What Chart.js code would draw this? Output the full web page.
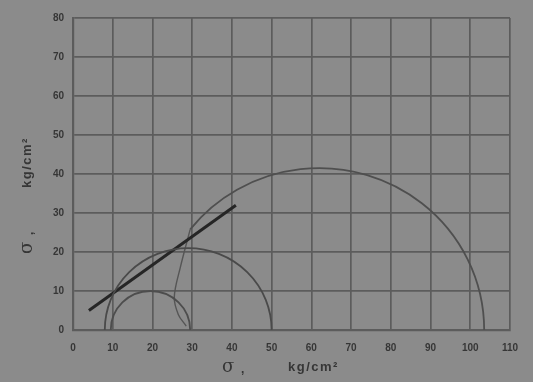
<!DOCTYPE html>
<html>
<head>
<meta charset="utf-8">
<script src="https://cdn.jsdelivr.net/npm/chart.js@4"></script>
<style>
  html, body { margin: 0; padding: 0; background: #8b8b8b; }
  #wrap { width: 533px; height: 382px; position: relative; }
</style>
</head>
<body>
<div id="wrap"><canvas id="mohr"></canvas></div>
<script>
// Mohr circles (kg/cm2)
const circleCenters = [19.5, 29, 62];
const circleRadii = [10, 21, 41.5];
// sigma where each drawn arc starts on its left (the big one is hand-drawn lower down)
const arcFrom = [9.5, 8, 29.5];
const circleColors = ['#4d4d4d', '#4a4a4a', '#4f4f4f'];

// strength envelope (thick dark stroke)
const envelopeSigma = [4, 41];
const envelopeTau = [5, 32];

// hand-drawn lower left part of the big circle
const strokeSigma = [29.5, 27, 25.5, 26.5, 28.5];
const strokeTau = [25.8, 16, 8.5, 4, 1];

const xTicks = [0, 10, 20, 30, 40, 50, 60, 70, 80, 90, 100, 110];
const yTicks = [0, 10, 20, 30, 40, 50, 60, 70, 80];

const ink = '#363636';
const gridInk = '#5c5c5c';

const toPoints = (xs, ys) => xs.map((x, i) => ({ x: x, y: ys[i] }));

// draws the semicircles through the chart scales
const circlesPlugin = {
    id: 'circles',
    afterDatasetsDraw(chart) {
        const { ctx, scales: { x, y } } = chart;
        ctx.save();
        circleCenters.forEach((c, i) => {
            const r = circleRadii[i];
            const cx = x.getPixelForValue(c);
            const cy = y.getPixelForValue(0);
            const rx = x.getPixelForValue(c + r) - cx;
            const ry = cy - y.getPixelForValue(r);
            const a = Math.acos(Math.max(-1, Math.min(1, (c - arcFrom[i]) / r)));
            ctx.beginPath();
            ctx.ellipse(cx, cy, rx, ry, 0, Math.PI + a, 2 * Math.PI);
            ctx.strokeStyle = circleColors[i];
            ctx.lineWidth = 1.8;
            ctx.stroke();
        });
        ctx.restore();
    }
};

// axis titles: big sigma, a dot, then the unit
const titlesPlugin = {
    id: 'titles',
    afterDraw(chart) {
        const { ctx } = chart;
        const drawTitle = () => {
            ctx.font = '18px "DejaVu Serif", serif';
            ctx.fillText('σ', 0, 0);
            ctx.font = 'bold 12px "Liberation Sans", sans-serif';
            ctx.fillText(',', 19, 3);
            ctx.letterSpacing = '1.5px';
            ctx.font = 'bold 13px "Liberation Sans", sans-serif';
            ctx.fillText('kg/cm²', 66, 0);
            ctx.letterSpacing = '0px';
        };
        ctx.save();
        ctx.fillStyle = ink;
        ctx.textBaseline = 'middle';
        ctx.textAlign = 'left';
        ctx.translate(222, 367);
        drawTitle();
        ctx.restore();

        ctx.save();
        ctx.fillStyle = ink;
        ctx.textBaseline = 'middle';
        ctx.textAlign = 'left';
        ctx.translate(27, 254);
        ctx.rotate(-Math.PI / 2);
        drawTitle();
        ctx.restore();
    }
};

new Chart(document.getElementById('mohr'), {
    type: 'line',
    data: {
        datasets: [
            {
                label: 'Envelope',
                data: toPoints(envelopeSigma, envelopeTau),
                borderColor: '#262626',
                borderWidth: 3,
                pointRadius: 0,
                tension: 0
            },
            {
                label: 'Stroke',
                data: toPoints(strokeSigma, strokeTau),
                borderColor: '#555555',
                borderWidth: 1.4,
                pointRadius: 0,
                tension: 0.35
            }
        ]
    },
    options: {
        responsive: true,
        maintainAspectRatio: false,
        animation: false,
        layout: { padding: { left: 0, top: 18, right: 23, bottom: 0 } },
        plugins: {
            legend: { display: false },
            tooltip: { enabled: false }
        },
        scales: {
            x: {
                type: 'linear',
                min: 0,
                max: 110,
                afterFit: s => { s.height = 52; },
                afterBuildTicks: s => { s.ticks = xTicks.map(v => ({ value: v })); },
                grid: { color: gridInk, lineWidth: 1.7, drawTicks: false },
                border: { color: gridInk, width: 2.2 },
                ticks: {
                    color: ink,
                    padding: 12,
                    font: { family: 'Liberation Sans', size: 10, weight: 'bold' }
                }
            },
            y: {
                type: 'linear',
                min: 0,
                max: 80,
                afterFit: s => { s.width = 73; },
                afterBuildTicks: s => { s.ticks = yTicks.map(v => ({ value: v })); },
                grid: { color: gridInk, lineWidth: 1.7, drawTicks: false },
                border: { color: gridInk, width: 2.2 },
                ticks: {
                    color: ink,
                    padding: 9,
                    font: { family: 'Liberation Sans', size: 10, weight: 'bold' }
                }
            }
        }
    },
    plugins: [circlesPlugin, titlesPlugin]
});
</script>
</body>
</html>
